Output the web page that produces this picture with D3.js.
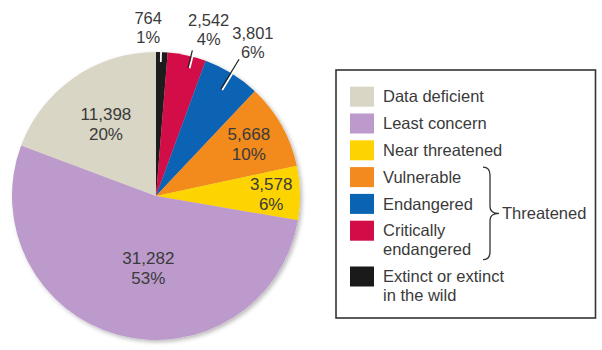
<!DOCTYPE html>
<html>
<head>
<meta charset="utf-8">
<script src="https://cdn.jsdelivr.net/npm/d3@7"></script>
<style>
  body { margin: 0; background: #fff; }
  text { font-family: "Liberation Sans", Arial, Helvetica, sans-serif; fill: #3a3a3a; }
</style>
</head>
<body>
<div id="chart"></div>
<script>
// clockwise from 12 o'clock
const categories = ["Extinct or extinct in the wild", "Critically endangered", "Endangered",
    "Vulnerable", "Near threatened", "Least concern", "Data deficient"];
const counts = [764, 2542, 3801, 5668, 3578, 31282, 11398];
const percentLabels = ["1%", "4%", "6%", "10%", "6%", "53%", "20%"];
const colors = ["#1b1a1a", "#d20c47", "#0b63b3", "#f28a1f", "#fdd402", "#bc9acb", "#d9d6c6"];

// legend order (top to bottom)
const legendOrder = ["Data deficient", "Least concern", "Near threatened", "Vulnerable",
    "Endangered", "Critically endangered", "Extinct or extinct in the wild"];
const legendLines = {
    "Critically endangered": ["Critically", "endangered"],
    "Extinct or extinct in the wild": ["Extinct or extinct", "in the wild"]
};
const threatened = ["Vulnerable", "Endangered", "Critically endangered"];

const data = categories.map((c, i) => ({cat: c, value: counts[i], pct: percentLabels[i], color: colors[i]}));

const width = 602, height = 350;
const cx = 156, cy = 196, r = 144;

const svg = d3.select("#chart")
    .append("svg")
    .attr("width", width)
    .attr("height", height);

const defs = svg.append("defs");
const f = defs.append("filter").attr("id", "shadow")
    .attr("x", "-10%").attr("y", "-10%").attr("width", "125%").attr("height", "125%");
f.append("feDropShadow")
    .attr("dx", 2).attr("dy", 2).attr("stdDeviation", 2.2)
    .attr("flood-color", "#000").attr("flood-opacity", 0.28);

const pie = d3.pie().sort(null).value(d => d.value);
const arcs = pie(data);
const arc = d3.arc().innerRadius(0).outerRadius(r);

const g = svg.append("g").attr("transform", `translate(${cx},${cy})`);

g.append("g").attr("filter", "url(#shadow)")
    .selectAll("path")
    .data(arcs)
    .enter()
    .append("path")
    .attr("d", arc)
    .attr("fill", d => d.data.color);

// labels inside the pie
const innerR = {"Vulnerable": 0.74, "Near threatened": 0.8, "Least concern": 0.5, "Data deficient": 0.61};
const innerShift = {"Least concern": -9};  // angle tweak, degrees
const mid = d => (d.startAngle + d.endAngle) / 2;

arcs.filter(d => innerR[d.data.cat]).forEach(d => {
    const a = mid(d) + (innerShift[d.data.cat] || 0) * Math.PI / 180;
    const rr = innerR[d.data.cat] * r;
    const x = rr * Math.sin(a), y = -rr * Math.cos(a);
    const t = g.append("text")
        .attr("text-anchor", "middle")
        .attr("font-size", 17);
    t.append("tspan").attr("x", x).attr("y", y - 4).text(d3.format(",")(d.data.value));
    t.append("tspan").attr("x", x).attr("y", y + 16).text(d.data.pct);
});

// labels outside with leader lines
const outer = {
    "Extinct or extinct in the wild": {da: -5, rr: 168, l0: 0, l1: -10, la: -0.8},
    "Critically endangered": {da: 5.2, rr: 174, l0: 6, l1: -12, la: 1.8},
    "Endangered": {da: 0.6, rr: 181, l0: 16, l1: -19, la: -0.3}
};
arcs.filter(d => outer[d.data.cat]).forEach(d => {
    const o = outer[d.data.cat];
    const a = mid(d) + o.da * Math.PI / 180;
    const x = o.rr * Math.sin(a), y = -o.rr * Math.cos(a);
    const t = g.append("text")
        .attr("text-anchor", "middle")
        .attr("font-size", 16.5);
    t.append("tspan").attr("x", x).attr("y", y - 4).text(d3.format(",")(d.data.value));
    t.append("tspan").attr("x", x).attr("y", y + 15).text(d.data.pct);

    const la = mid(d) + o.la * Math.PI / 180;
    const p0 = [(r + o.l0) * Math.sin(la), -(r + o.l0) * Math.cos(la)];
    const p1 = [(r + o.l1) * Math.sin(la), -(r + o.l1) * Math.cos(la)];
    const nx = Math.cos(la) * 1.2, ny = Math.sin(la) * 1.2;
    g.append("line")
        .attr("x1", p0[0] + nx).attr("y1", p0[1] + ny)
        .attr("x2", p1[0] + nx).attr("y2", p1[1] + ny)
        .attr("stroke", "#fff").attr("stroke-width", 1.8);
    g.append("line")
        .attr("x1", p0[0] - nx * 0.4).attr("y1", p0[1] - ny * 0.4)
        .attr("x2", p1[0] - nx * 0.4).attr("y2", p1[1] - ny * 0.4)
        .attr("stroke", "#222").attr("stroke-width", 1.2);
});

// legend
const color = d3.scaleOrdinal().domain(categories).range(colors);
svg.append("rect")
    .attr("x", 336).attr("y", 70)
    .attr("width", 259.5).attr("height", 248)
    .attr("fill", "#fff")
    .attr("stroke", "#333")
    .attr("stroke-width", 1.6);

const rowStep = 26.8, lineH = 19;
let yy = 86.7;
const rowTop = {};
legendOrder.forEach(c => {
    rowTop[c] = yy;
    const lines = legendLines[c] || [c];
    svg.append("rect")
        .attr("x", 350).attr("y", yy)
        .attr("width", 24).attr("height", 20)
        .attr("fill", color(c));
    const t = svg.append("text").attr("font-size", 16.5);
    lines.forEach((l, i) => {
        t.append("tspan").attr("x", 383).attr("y", yy + 15.6 + i * lineH).text(l);
    });
    yy += rowStep + (lines.length - 1) * lineH;
});

// brace for threatened group
const bTop = rowTop[threatened[0]], bBot = rowTop[threatened[2]] + 20 + lineH;
const bx = 483, bm = (bTop + bBot) / 2;
svg.append("path")
    .attr("d", `M${bx},${bTop} Q${bx + 7},${bTop} ${bx + 7},${bTop + 8}
        L${bx + 7},${bm - 7} Q${bx + 7},${bm} ${bx + 16},${bm}
        Q${bx + 7},${bm} ${bx + 7},${bm + 7}
        L${bx + 7},${bBot - 8} Q${bx + 7},${bBot} ${bx},${bBot}`)
    .attr("fill", "none")
    .attr("stroke", "#333")
    .attr("stroke-width", 1.3);
svg.append("text")
    .attr("x", bx + 19).attr("y", bm + 6)
    .attr("font-size", 16.5)
    .text("Threatened");
</script>
</body>
</html>
